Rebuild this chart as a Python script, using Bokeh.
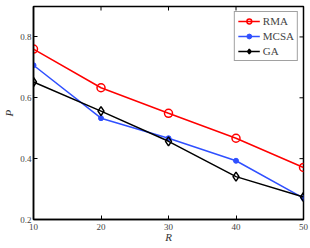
from bokeh.plotting import figure
from bokeh.models import Range1d, FixedTicker, Legend, LegendItem
from bokeh.embed import file_html
from bokeh.resources import INLINE
import math

R = [10, 20, 30, 40, 50]
rma = [0.760, 0.633, 0.549, 0.467, 0.371]
mcsa = [0.707, 0.533, 0.467, 0.393, 0.270]
ga = [0.652, 0.556, 0.457, 0.341, 0.274]
xticks = [10, 20, 30, 40, 50]
yticks = [0.2, 0.4, 0.6, 0.8]
xmin, xmax, ymin, ymax = 10, 50, 0.2, 0.9

FONT = "Liberation Serif"

p = figure(frame_width=270, frame_height=213, output_backend="svg", toolbar_location=None,
           x_range=Range1d(xmin, xmax), y_range=Range1d(ymin, ymax),
           min_border_left=24, min_border_right=6, min_border_top=6, min_border_bottom=0)
p.grid.visible = False
p.outline_line_color = "black"
p.outline_line_width = 1.5
p.background_fill_color = "white"
p.border_fill_color = "white"

for ax in [p.xaxis[0], p.yaxis[0]]:
    ax.major_tick_in = 4
    ax.major_tick_out = 0
    ax.minor_tick_line_color = None
    ax.axis_line_color = "black"
    ax.axis_line_width = 1.5
    ax.major_tick_line_width = 1
    ax.major_label_text_font = FONT
    ax.major_label_text_font_size = "9px"
    ax.major_label_text_color = "#444444"
    ax.axis_label_text_font = FONT
    ax.axis_label_text_font_style = "italic"
    ax.axis_label_text_font_size = "11px"
    ax.axis_label_text_color = "#333333"

p.xaxis[0].major_label_standoff = 4
p.xaxis[0].axis_label_standoff = -2
p.yaxis[0].major_label_standoff = 2
p.yaxis[0].axis_label_standoff = 2
p.xaxis[0].ticker = FixedTicker(ticks=xticks)
p.yaxis[0].ticker = FixedTicker(ticks=yticks)
p.xaxis[0].axis_label = "R"
p.yaxis[0].axis_label = "P"

# inward ticks on the right and top edges of the box
p.scatter([xmax] * len(yticks), yticks, marker="dash", size=8, line_color="black", line_width=1)
p.scatter(xticks, [ymax] * len(xticks), marker="dash", size=8, angle=math.pi / 2,
          line_color="black", line_width=1)

r1 = p.line(R, rma, color="#ff0000", line_width=1.5)
r1m = p.scatter(R, rma, marker="circle", size=8, line_color="#ff0000", fill_color=None, line_width=1.5)
r2 = p.line(R, mcsa, color="#3050ff", line_width=1.5)
r2m = p.scatter(R, mcsa, marker="circle", size=5, line_color="#3050ff", fill_color="#3050ff")
r3 = p.line(R, ga, color="black", line_width=1.5)
r3m = p.scatter(R, ga, marker="diamond", size=9, line_color="black", fill_color=None, line_width=1.5)

legend = Legend(items=[
    LegendItem(label="RMA", renderers=[r1, r1m]),
    LegendItem(label="MCSA", renderers=[r2, r2m]),
    LegendItem(label="GA", renderers=[r3, r3m]),
], location="top_right")
legend.label_text_font = FONT
legend.label_text_font_size = "11px"
legend.label_height = 12
legend.glyph_height = 12
legend.glyph_width = 22
legend.spacing = 3
legend.padding = 3
legend.margin = 5
legend.label_standoff = 3
legend.border_line_color = "#444444"
legend.border_line_width = 1
legend.background_fill_alpha = 1
p.add_layout(legend)

open("out.html", "w").write(file_html(p, INLINE))
